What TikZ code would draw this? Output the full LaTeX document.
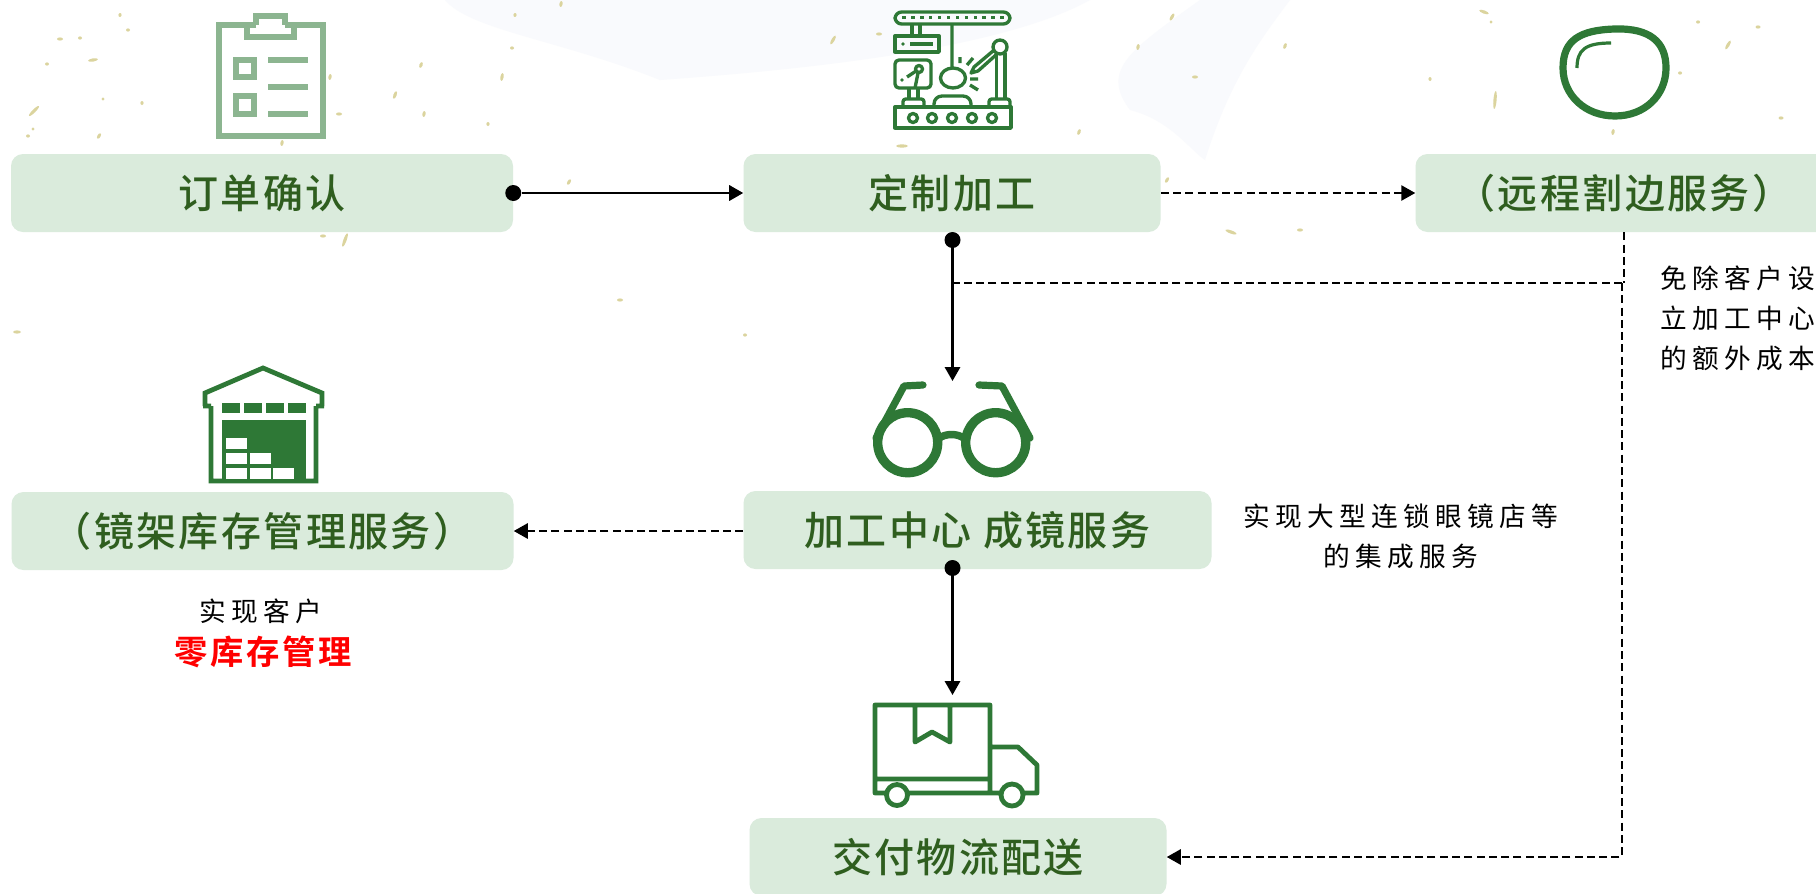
\documentclass[tikz,border=0pt]{standalone}
\usepackage{fontspec}
\usepackage{tikz}
\usetikzlibrary{positioning,arrows.meta,shapes.geometric}
\newfontfamily\cjkbox[LetterSpace=6]{Noto Sans CJK SC Medium}
\newfontfamily\cjkred[LetterSpace=8]{Noto Sans CJK SC Bold}
\newfontfamily\cjknote[LetterSpace=20]{Noto Sans CJK SC}
\definecolor{boxgreen}{HTML}{DAEBDC}
\definecolor{labelgreen}{HTML}{2F5E1F}
\definecolor{icongreen}{HTML}{2E7836}
\definecolor{fleck}{HTML}{DBD49E}
\definecolor{wash}{HTML}{F9FAFD}
\tikzset{
  lbox/.style={rectangle, rounded corners=9pt, fill=boxgreen, minimum height=58.5pt, inner sep=0pt,
               text=labelgreen, font=\fontsize{30}{30}\selectfont\cjkbox},
  note/.style={align=center, inner sep=0pt, text=black, font=\fontsize{20}{30}\selectfont\cjknote},
  startdot/.style={circle, fill=black, inner sep=0pt, minimum size=12pt},
  fwd/.style={-{Triangle[length=10.5pt,width=11.5pt]}, line width=1.7pt},
  dashline/.style={line width=1.3pt, dash pattern=on 6pt off 3.2pt},
  dashfwd/.style={dashline, -{Triangle[length=10.5pt,width=11.5pt]}},
  icon/.style={draw=icongreen, line width=2.5pt, line join=round},
}
\begin{document}
\begin{tikzpicture}[x=0.75pt,y=-0.75pt]
  \path[use as bounding box, clip] (0,0) rectangle (1816,893);
  \fill[white] (0,0) rectangle (1816,893);
  % paper background
  \fill[wash] (445,0) .. controls (470,30) and (560,40) .. (660,80) .. controls (800,70) and (1000,50) .. (1090,0) -- cycle;
  \fill[wash] (1200,0) .. controls (1130,50) and (1100,70) .. (1130,110) .. controls (1170,120) and (1190,150) .. (1205,160) .. controls (1230,80) and (1260,40) .. (1290,0) -- cycle;
  \foreach \fx/\fy/\fa/\fs in {120/15/80/2,128/30/0/2,60/39/0/3,80/38/0/2,47/64/0/2,93/60/10/5,34/111/45/7,
      142/103/90/2,103/99/0/1.5,99/136/60/3,28/136/0/2,33/129/0/1.5,282/143/80/3,330/77/80/3,339/114/0/3,
      395/95/70/4,421/65/70/3,424/114/80/3,502/77/80/4,512/48/0/2,488/124/90/2,561/4/80/3,515/15/80/2,
      569/182/60/3,345/240/70/7,323/236/0/3,833/40/60/5,879/34/0/3,1172/17/60/4,1138/47/80/3,1195/77/0/3,
      1079/132/70/3,902/146/0/6,1167/180/60/3,1484/12/-20/5,1495/100/85/9,1491/22/0/1.5,1698/22/0/2,
      1758/27/0/2.5,1728/45/60/5,1680/73/0/2,1781/118/0/2.5,1613/132/80/3,1430/79/90/2,1231/232/-20/6,
      1285/46/70/3,17/332/0/4,620/300/0/3,745/335/0/2,1300/230/0/3}
    \fill[fleck, rotate around={\fa:(\fx,\fy)}] (\fx,\fy) ellipse [x radius=\fs, y radius=1.6];

  % boxes
  \node[lbox, minimum width=376.5pt] (order) at (262,193) {订单确认};
  \node[lbox, minimum width=312.75pt] (custom) at (952,193) {定制加工};
  \node[lbox, minimum width=312.75pt] (edging) at (1624,193) {（远程割边服务）};
  \node[lbox, minimum width=376.5pt] (stock) at (262.5,531) {（镜架库存管理服务）};
  \node[lbox, minimum width=351pt] (center) at (977.5,530) {加工中心 成镜服务};
  \node[lbox, minimum width=312.75pt] (deliver) at (958,857) {交付物流配送};

  \node[note, anchor=west, align=left] (noteedge) at (1660,318) {免除客户设\\立加工中心\\的额外成本};
  \node[note] (notecenter) at (1401,536) {实现大型连锁眼镜店等\\的集成服务};
  \node[note] (notestock) at (261,611) {实现客户};
  \node[inner sep=0pt, text=red, font=\fontsize{25}{25}\selectfont\cjkred] (notezero) at (263,652) {零库存管理};

  % connectors
  \node[startdot] (dotorder) at (order.east) {};
  \node[startdot] (dotcustom) at (952.5,240) {};
  \node[startdot] (dotcenter) at (952.5,568) {};
  \coordinate (glasstop) at (952.5,381);
  \coordinate (trucktop) at (952.5,695);
  \coordinate (bendedge) at (1622,283);

  \draw[fwd] (dotorder) -- (custom.west);
  \draw[dashfwd] (custom.east) -- (edging.west);
  \draw[fwd] (dotcustom) -- (glasstop);
  \draw[dashfwd] (center.west |- stock.east) -- (stock.east);
  \draw[fwd] (dotcenter) -- (trucktop);
  \draw[dashline] (edging.south) -- (edging.south |- bendedge);
  \draw[dashline] (bendedge) -- (bendedge -| dotcustom);
  \draw[dashfwd] (bendedge) -- (bendedge |- deliver.east) -- (deliver.east);

  % clipboard
  \draw[draw=icongreen!55!white, line width=4.5pt, line join=miter]
    (256,25) -- (218.5,25) -- (218.5,136) -- (322.5,136) -- (322.5,25) -- (285,25)
    (247,25) -- (247,37) -- (294,37) -- (294,25)
    (256,25) -- (256,16) -- (285,16) -- (285,25)
    (236,60) rectangle (254,77) (236,96) rectangle (254,114)
    (268,60) -- (308,60) (268,87) -- (308,87) (268,114) -- (308,114);

  % machine
  \draw[icon, rounded corners=5pt] (895,12) rectangle (1010,24);
  \foreach \mx in {0,...,11}
    \fill[icongreen] (904+\mx*8.9-1.7,15.8) rectangle ++(3.4,3.4);
  \draw[icon] (912,24) -- (912,36) (920,24) -- (920,36);
  \draw[icon] (895,36) rectangle (939,52);
  \fill[icongreen] (903,44) circle [radius=1.8];
  \draw[icon] (910,44) -- (933,44);
  \draw[icon, rounded corners=3pt] (895,60) rectangle (931,88);
  \draw[icon] (919,69) circle [radius=3.5] (916,71) -- (907,77) (918,73) -- (915,88);
  \fill[icongreen] (902,80) circle [radius=1.8];
  \draw[icon] (909,88) -- (909,98) (918,88) -- (918,98);
  \draw[icon, rounded corners=2pt] (903,107) -- (903,99) -- (924,99) -- (924,107);
  \draw[icon, rounded corners=6pt] (934,107) -- (934,96) -- (971,96) -- (971,107);
  \draw[icon, rounded corners=2pt] (989,107) -- (989,99) -- (1010,99) -- (1010,107);
  \draw[icon] (895,107) rectangle (1011,128);
  \foreach \mx in {913,932,952,972,992}
    \draw[icon] (\mx,118) circle [radius=4.5];
  \draw[icon] (952,24) -- (952,68) (953,78) ellipse [x radius=12.5, y radius=10];
  \draw[icon] (960,57) -- (960,63) (967,65) -- (973,58) (970,79) -- (978,79) (970,85) -- (978,90);
  \draw[icon] (1000,47) circle [radius=7] (993,51) -- (974,67) -- (971,73) -- (978,71) -- (997,54);
  \draw[icon] (996.5,55) -- (996.5,99) (1005,53) -- (1005,99);

  % lens
  \draw[draw=icongreen, line width=5.4pt] (1563,68) .. controls (1563,40) and (1580,30) .. (1615,29)
    .. controls (1650,28) and (1666,42) .. (1666,68) .. controls (1666,95) and (1645,116) .. (1615,116)
    .. controls (1585,116) and (1563,95) .. (1563,68) -- cycle;
  \draw[draw=icongreen, line width=2.4pt] (1577,68) .. controls (1577,50) and (1585,43) .. (1611,43);

  % warehouse
  \draw[icon, line width=3.6pt, line join=miter]
    (205,406) -- (205,393) -- (263,368) -- (322,393) -- (322,406) (203,406) -- (211,406)
    (316,406) -- (324,406) (211,406) -- (211,481) -- (316,481) -- (316,406);
  \foreach \wx in {222,244,266,288}
    \fill[icongreen] (\wx,403) rectangle ++(18,10);
  \fill[icongreen] (222,420) rectangle (306,481);
  \foreach \wx/\wy in {226/468,250/468,273/468,226/453,250/453,226/438}
    \fill[white] (\wx,\wy) rectangle ++(20.5,10.5);

  % glasses
  \draw[draw=icongreen, line width=7pt] (907.7,442.7) circle [radius=30] (995.7,442.7) circle [radius=30];
  \draw[draw=icongreen, line width=5.6pt] (938,439) .. controls (945,433) and (958,433) .. (965,439);
  \draw[draw=icongreen, line width=5.4pt, line cap=round, line join=round]
    (876,438) -- (904,386) -- (923,385) (1030,438) -- (1002,386) -- (979,385);

  % truck
  \draw[icon, line width=3.6pt] (875,779) -- (875,705) -- (990,705) -- (990,793)
    (875,779) -- (990,779) (875,779) -- (875,793) -- (886,793) (908,793) -- (1000,793)
    (915,705) -- (915,742) -- (932,732) -- (950,742) -- (950,705)
    (990,747) -- (1018,747) -- (1037,765) -- (1037,793) -- (1024,793)
    (897,795) circle [radius=10.5] (1012,795) circle [radius=11];
\end{tikzpicture}
\end{document}
